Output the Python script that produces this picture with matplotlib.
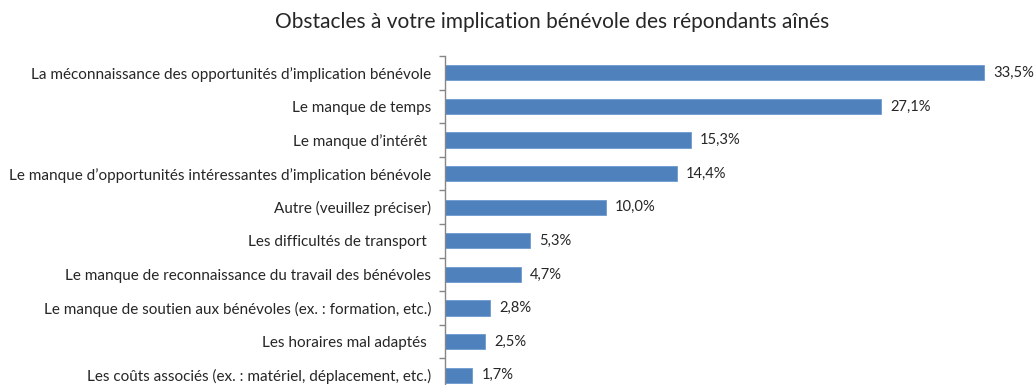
import matplotlib
matplotlib.use("Agg")
import matplotlib.pyplot as plt

categories = [
    "La méconnaissance des opportunités d’implication bénévole",
    "Le manque de temps",
    "Le manque d’intérêt ",
    "Le manque d’opportunités intéressantes d’implication bénévole",
    "Autre (veuillez préciser)",
    "Les difficultés de transport ",
    "Le manque de reconnaissance du travail des bénévoles",
    "Le manque de soutien aux bénévoles (ex. : formation, etc.)",
    "Les horaires mal adaptés ",
    "Les coûts associés (ex. : matériel, déplacement, etc.)",
]
values = [33.5, 27.1, 15.3, 14.4, 10.0, 5.3, 4.7, 2.8, 2.5, 1.7]
title = "Obstacles à votre implication bénévole des répondants aînés"

FONT = "Lato"
TEXT = "#262626"
BAR = "#4F81BD"

W, H = 1034, 385
fig = plt.figure(figsize=(W / 100, H / 100), dpi=100)

# axes geometry in pixels
x0, y_top, band = 445, 56, 33.6
px_per_unit = 16.09
n = len(categories)
ax = fig.add_axes([x0 / W, 1 - (y_top + n * band) / H,
                   (W - x0) / W, n * band / H])

pos = list(range(n))
ax.barh(pos, values, height=0.45, color=BAR, edgecolor="#6f9ad0", linewidth=0.6)
ax.set_xlim(0, (W - x0) / px_per_unit)
ax.set_ylim(n - 0.5, -0.5)

for p, v in zip(pos, values):
    ax.annotate(f"{v:.1f}%".replace(".", ","), (v, p), xytext=(6.5, 0),
                textcoords="offset points", va="center", ha="left",
                fontsize=10.6, family=FONT, color=TEXT, annotation_clip=False)

for s in ("top", "right", "bottom"):
    ax.spines[s].set_visible(False)
ax.spines["left"].set_color("#868686")
ax.spines["left"].set_linewidth(1.0)
ax.set_xticks([])

# boundary tick marks, labels at band centres
ax.set_yticks([k - 0.5 for k in range(n + 1)])
ax.set_yticklabels([])
ax.tick_params(axis="y", which="major", length=4, color="#868686", width=1.0)
ax.set_yticks(pos, minor=True)
ax.set_yticklabels(categories, minor=True, fontsize=11.0, family=FONT, color=TEXT)
ax.tick_params(axis="y", which="minor", length=0, pad=10)

fig.text(552 / W, 1 - 22 / H, title, ha="center", va="center",
         fontsize=15, family=FONT, color=TEXT)

fig.savefig("out.png", dpi=100)
